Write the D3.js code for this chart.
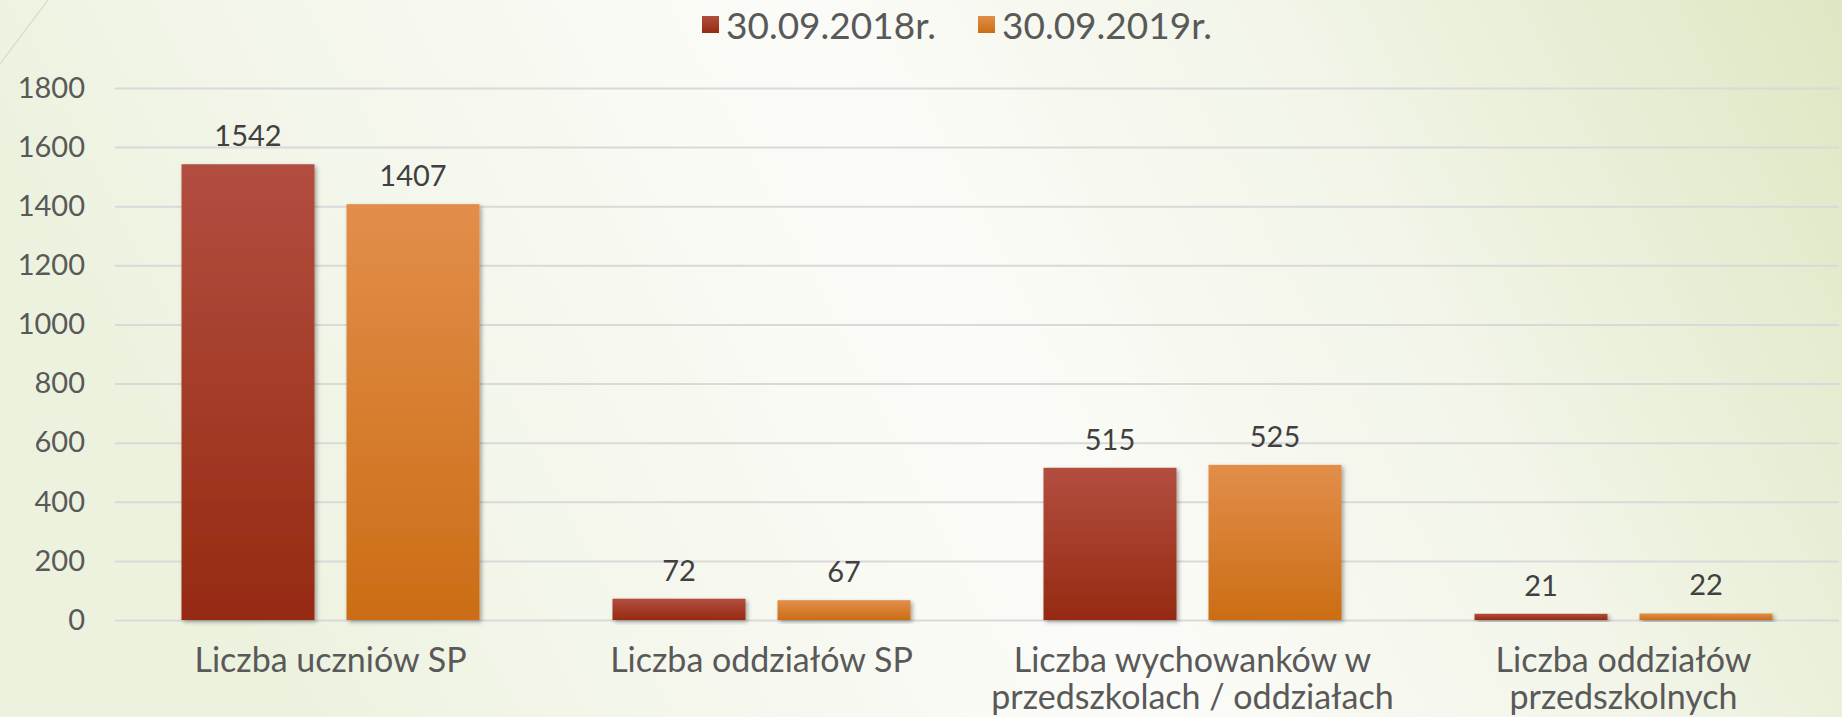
<!DOCTYPE html>
<html><head><meta charset="utf-8">
<script src="https://cdn.jsdelivr.net/npm/d3@7"></script>
<style>body{margin:0;background:#fff;} svg{display:block;}</style>
</head><body>
<svg id="chart" width="1842" height="717"></svg>
<script>
// ---- data ----
const categories = ["Liczba uczniów SP", "Liczba oddziałów SP", "Liczba wychowanków w przedszkolach / oddziałach", "Liczba oddziałów przedszkolnych"];
const categoryLines = [["Liczba uczniów SP"], ["Liczba oddziałów SP"], ["Liczba wychowanków w", "przedszkolach / oddziałach"], ["Liczba oddziałów", "przedszkolnych"]];
const seriesNames = ["30.09.2018r.", "30.09.2019r."];
const values2018 = [1542, 72, 515, 21];
const values2019 = [1407, 67, 525, 22];
const yTicks = [0, 200, 400, 600, 800, 1000, 1200, 1400, 1600, 1800];

// ---- setup ----
const W = 1842, H = 717;
const svg = d3.select("#chart");
const defs = svg.append("defs");
const FONT = "Lato, 'Open Sans', sans-serif";

const bg = defs.append("linearGradient").attr("id", "bg").attr("x1", 0).attr("y1", 0.2).attr("x2", 1).attr("y2", 0);
[[0, "#edf2df"], [0.25, "#f6f8ef"], [0.45, "#fbfcf8"], [0.7, "#f2f5e8"], [1, "#dee7c3"]].forEach(([o, c]) =>
  bg.append("stop").attr("offset", o).attr("stop-color", c));
svg.append("rect").attr("width", W).attr("height", H).attr("fill", "url(#bg)");
svg.append("line").attr("x1", 0).attr("y1", 64).attr("x2", 48).attr("y2", 0)
  .attr("stroke", "#d6dcc6").attr("stroke-width", 1.2);

const grads = [["g2018", "#b24e40", "#962a11"], ["g2019", "#e28e4a", "#cb6d15"]];
grads.forEach(([id, top, bot]) => {
  const g = defs.append("linearGradient").attr("id", id).attr("x1", 0).attr("y1", 0).attr("x2", 0).attr("y2", 1);
  g.append("stop").attr("offset", 0).attr("stop-color", top);
  g.append("stop").attr("offset", 1).attr("stop-color", bot);
});
const sh = defs.append("filter").attr("id", "shadow").attr("x", "-10%").attr("y", "-10%").attr("width", "130%").attr("height", "130%");
sh.append("feDropShadow").attr("dx", 2).attr("dy", 2).attr("stdDeviation", 2.2)
  .attr("flood-color", "#000").attr("flood-opacity", 0.35);

// ---- scales ----
const y = d3.scaleLinear().domain([0, 1800]).range([620, 88]);
const x0 = d3.scaleBand().domain(categories).range([115, 1839]).padding(0);
const x1 = d3.scaleBand().domain(seriesNames).range([0, x0.bandwidth()]).paddingInner(0.194).paddingOuter(0.403);

// ---- grid / y axis ----
const yAxis = svg.append("g").attr("transform", "translate(115,0)")
  .call(d3.axisLeft(y).tickValues(yTicks).tickFormat(d3.format("d")).tickSize(-(1839 - 115)).tickPadding(30));
yAxis.select(".domain").remove();
yAxis.selectAll(".tick line").attr("stroke", "#d9d9d9").attr("stroke-width", 2);
yAxis.selectAll(".tick text").attr("fill", "#595959").style("font-family", FONT).style("font-size", "29px");

// ---- bars ----
const seriesData = [values2018, values2019];
const groups = svg.append("g").selectAll("g").data(categories).join("g")
  .attr("transform", d => `translate(${x0(d)},0)`);
groups.each(function (cat, ci) {
  const g = d3.select(this);
  seriesNames.forEach((s, si) => {
    const v = seriesData[si][ci];
    g.append("rect").attr("x", x1(s)).attr("y", y(v)).attr("width", x1.bandwidth())
      .attr("height", y(0) - y(v)).attr("fill", `url(#${grads[si][0]})`).attr("filter", "url(#shadow)");
    g.append("text").attr("x", x1(s) + x1.bandwidth() / 2).attr("y", y(v) - 18)
      .attr("text-anchor", "middle").attr("fill", "#404040")
      .style("font-family", FONT).style("font-size", "29px").text(v);
  });
});

// ---- category labels ----
categories.forEach((c, ci) => {
  const t = svg.append("text").attr("text-anchor", "middle").attr("fill", "#595959")
    .style("font-family", FONT).style("font-size", "34px");
  categoryLines[ci].forEach((ln, li) => {
    t.append("tspan").attr("x", x0(c) + x0.bandwidth() / 2).attr("y", 672 + li * 37).text(ln);
  });
});

// ---- legend ----
const legendX = [702, 978];
seriesNames.forEach((s, si) => {
  svg.append("rect").attr("x", legendX[si]).attr("y", 16).attr("width", 17).attr("height", 17)
    .attr("fill", `url(#${grads[si][0]})`);
  svg.append("text").attr("x", legendX[si] + 24).attr("y", 39).attr("fill", "#595959")
    .style("font-family", FONT).style("font-size", "37px").text(s);
});
</script>
</body></html>
